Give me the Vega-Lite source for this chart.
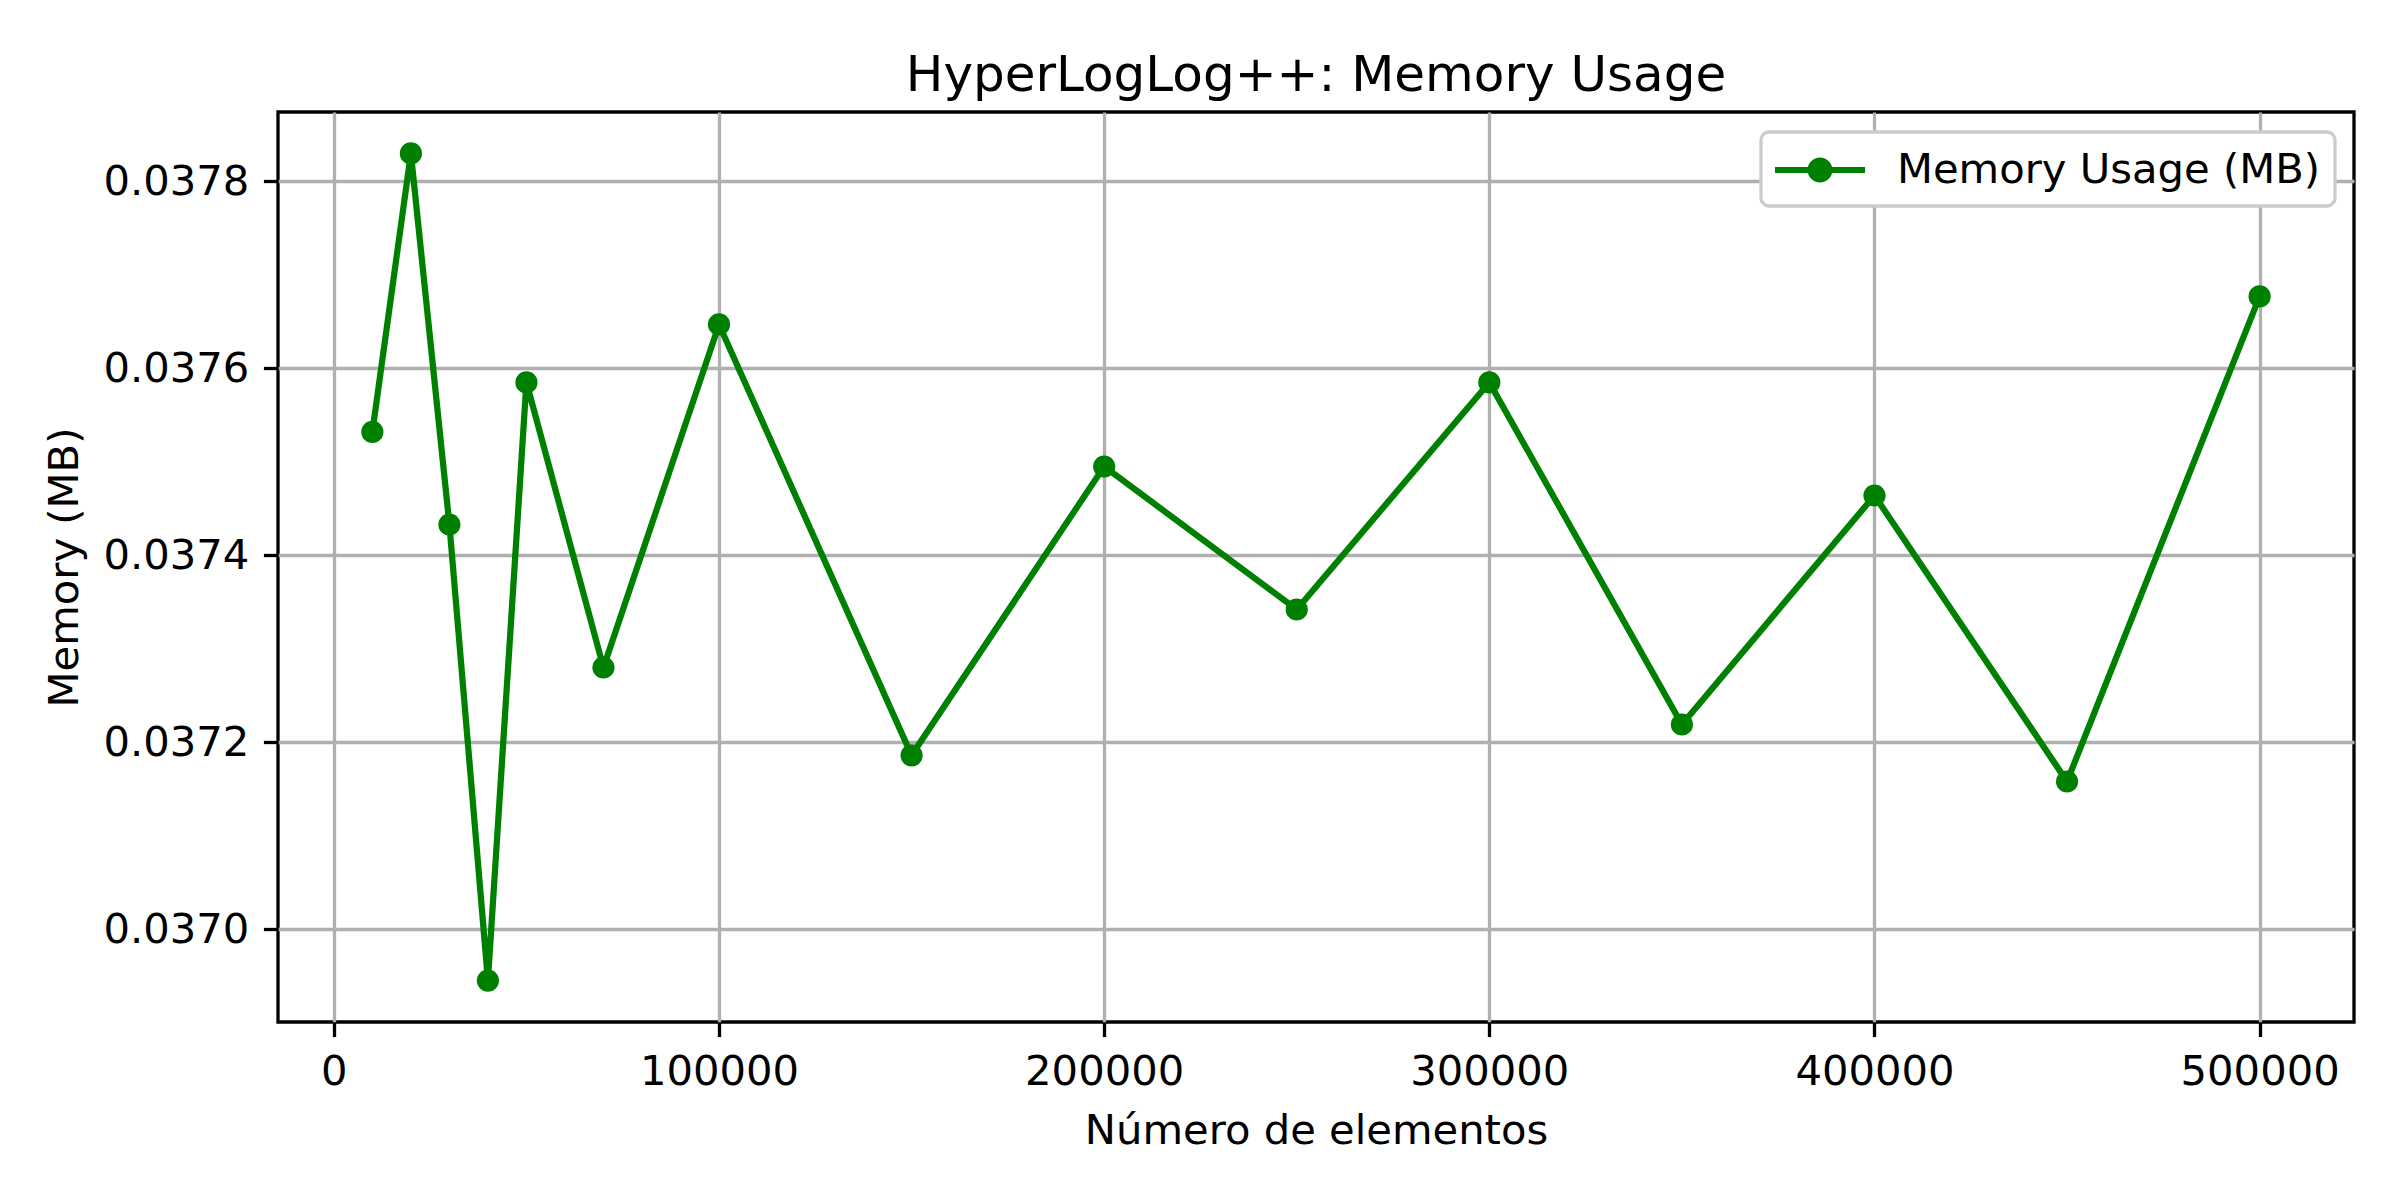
{
  "$schema": "https://vega.github.io/schema/vega-lite/v6.json",
  "autosize": "none",
  "width": 2076,
  "height": 910,
  "padding": {"left": 278, "top": 112, "right": 46, "bottom": 178},
  "background": "white",
  "title": {
    "text": "HyperLogLog++: Memory Usage",
    "font": "DejaVu Sans",
    "fontSize": 50,
    "fontWeight": "normal",
    "color": "black",
    "anchor": "middle",
    "frame": "group",
    "baseline": "bottom",
    "offset": -39
  },
  "config": {
    "view": {"stroke": "black", "strokeWidth": 3.3},
    "legend": {"strokeColor": "#cccccc", "strokeWidth": 3.3},
    "axis": {
      "labelFont": "DejaVu Sans",
      "titleFont": "DejaVu Sans",
      "labelFontSize": 41.7,
      "titleFontSize": 41.7,
      "titleFontWeight": "normal",
      "labelColor": "black",
      "titleColor": "black",
      "domain": false,
      "ticks": true,
      "tickColor": "black",
      "tickWidth": 3.3,
      "tickSize": 14.6,
      "labelPadding": 14.6,
      "grid": true,
      "gridColor": "#b0b0b0",
      "gridWidth": 3.3
    }
  },
  "data": {
    "values": [
      {"n": 10000, "mem": 0.037532, "series": "Memory Usage (MB)"},
      {"n": 20000, "mem": 0.037830, "series": "Memory Usage (MB)"},
      {"n": 30000, "mem": 0.037433, "series": "Memory Usage (MB)"},
      {"n": 40000, "mem": 0.036945, "series": "Memory Usage (MB)"},
      {"n": 50000, "mem": 0.037585, "series": "Memory Usage (MB)"},
      {"n": 70000, "mem": 0.037280, "series": "Memory Usage (MB)"},
      {"n": 100000, "mem": 0.037647, "series": "Memory Usage (MB)"},
      {"n": 150000, "mem": 0.037186, "series": "Memory Usage (MB)"},
      {"n": 200000, "mem": 0.037495, "series": "Memory Usage (MB)"},
      {"n": 250000, "mem": 0.037342, "series": "Memory Usage (MB)"},
      {"n": 300000, "mem": 0.037585, "series": "Memory Usage (MB)"},
      {"n": 350000, "mem": 0.037219, "series": "Memory Usage (MB)"},
      {"n": 400000, "mem": 0.037464, "series": "Memory Usage (MB)"},
      {"n": 450000, "mem": 0.037158, "series": "Memory Usage (MB)"},
      {"n": 500000, "mem": 0.037677, "series": "Memory Usage (MB)"}
    ]
  },
  "encoding": {
    "x": {
      "field": "n",
      "type": "quantitative",
      "scale": {"domain": [-14500, 524500], "nice": false, "zero": false},
      "axis": {
        "title": "Número de elementos",
        "values": [0, 100000, 200000, 300000, 400000, 500000],
        "format": "d",
        "titlePadding": 18
      }
    },
    "y": {
      "field": "mem",
      "type": "quantitative",
      "scale": {"domain": [0.0369007, 0.0378743], "nice": false, "zero": false},
      "axis": {
        "title": "Memory (MB)",
        "values": [0.037, 0.0372, 0.0374, 0.0376, 0.0378],
        "format": ".4f",
        "titlePadding": 16
      }
    }
  },
  "layer": [
    {
      "mark": {"type": "line", "strokeWidth": 6.25, "color": "#008000"},
      "encoding": {
        "color": {
          "field": "series",
          "type": "nominal",
          "scale": {"range": ["#008000"]},
          "legend": {
            "title": null,
            "orient": "none",
            "legendX": 1483,
            "legendY": 20,
            "padding": 14,
            "fillColor": "white",
            "strokeColor": "#cccccc",
            "cornerRadius": 8,
            "labelFont": "DejaVu Sans",
            "labelFontSize": 41.7,
            "labelColor": "black",
            "labelLimit": 1000,
            "labelOffset": 74,
            "symbolType": "M -1 -0.13 L 2.75 -0.13 L 2.75 0.13 L -1 0.13 Z M 1.396 0 A 0.521 0.521 0 1 1 0.354 0 A 0.521 0.521 0 1 1 1.396 0 Z",
            "symbolSize": 2304,
            "symbolFillColor": "#008000",
            "symbolStrokeColor": "#008000",
            "symbolStrokeWidth": 0,
            "symbolOpacity": 1
          }
        }
      }
    },
    {
      "mark": {"type": "point", "filled": true, "opacity": 1, "size": 491, "shape": "circle", "color": "#008000"},
      "encoding": {}
    }
  ]
}
